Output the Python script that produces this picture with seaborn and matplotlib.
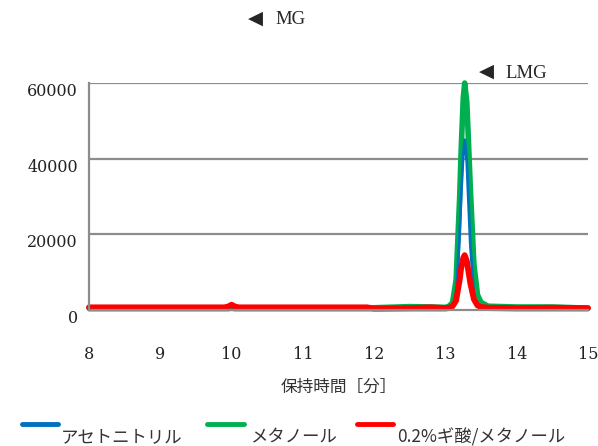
import matplotlib

matplotlib.use("Agg")

import matplotlib.pyplot as plt
import pandas as pd
import seaborn as sns
from matplotlib.lines import Line2D

# retention time grid (min) and detector response per solvent
time_min = [8.0, 9.0, 9.9, 9.95, 10.0, 10.05, 10.1, 11.0, 11.9, 12.0, 12.5, 12.8,
            13.0, 13.05, 13.1, 13.15, 13.2, 13.22, 13.25, 13.27, 13.3, 13.32, 13.35,
            13.4, 13.45, 13.5, 13.6, 14.0, 14.5, 15.0]
acetonitrile = [0, 0, 0, 0, 100, 0, 0, 0, 0, 0, 0, 0,
                0, 100, 600, 4000, 20000, 30000, 41000, 45000, 39000, 30000, 17000,
                4000, 1000, 300, 100, 0, 0, 0]
methanol = [500, 500, 500, 600, 900, 600, 500, 500, 500, 600, 900, 800,
            700, 1000, 2000, 8000, 30000, 42000, 56000, 60000, 55000, 46000, 32000,
            12000, 4000, 2000, 1000, 800, 800, 500]
formic_methanol = [700, 700, 700, 900, 1400, 900, 700, 700, 700, 400, 500, 700,
                   500, 600, 1000, 2500, 8000, 11000, 13800, 14500, 13000, 10500, 7000,
                   2800, 1200, 800, 600, 500, 600, 500]

series_names = ["アセトニトリル", "メタノール", "0.2%ギ酸/メタノール"]
colors = {"アセトニトリル": "#0070C0", "メタノール": "#00B050", "0.2%ギ酸/メタノール": "#FF0000"}
widths = {"アセトニトリル": 2.0, "メタノール": 4.0, "0.2%ギ酸/メタノール": 4.2}
y_ticks = [0, 20000, 40000, 60000]
x_ticks = [8, 9, 10, 11, 12, 13, 14, 15]

GRAY = "#8C8C8C"

sns.set_theme(style="white")
plt.rcParams["font.family"] = ["DejaVu Serif", "Noto Sans CJK JP"]

df = pd.DataFrame({
    "time": time_min * 3,
    "value": acetonitrile + methanol + formic_methanol,
    "solvent": [s for s in series_names for _ in time_min],
})

fig = plt.figure(figsize=(5.98, 4.46), dpi=100)
ax = fig.add_axes([89 / 598, 1 - 310 / 446, 499 / 598, 227 / 446])

# draw order: green under blue, red on top
for name in ["メタノール", "アセトニトリル", "0.2%ギ酸/メタノール"]:
    sns.lineplot(data=df[df["solvent"] == name], x="time", y="value", color=colors[name],
                 linewidth=widths[name], estimator=None, legend=False, ax=ax,
                 solid_capstyle="round", solid_joinstyle="round", clip_on=False)

ax.set_xlim(8, 15)
ax.set_ylim(0, 60000)
ax.set_xticks(x_ticks)
ax.set_yticks(y_ticks)
ax.set_xticklabels([str(t) for t in x_ticks], fontsize=11.5)
ax.set_yticklabels([str(t) for t in y_ticks], fontsize=11.5, va="top")

for y in y_ticks[1:]:
    ax.axhline(y, color=GRAY, linewidth=1.6, zorder=0)

for side in ["top", "right"]:
    ax.spines[side].set_visible(False)
for side in ["left", "bottom"]:
    ax.spines[side].set_color(GRAY)
    ax.spines[side].set_linewidth(1.6)
ax.tick_params(axis="x", direction="out", length=4, width=1.6, color=GRAY, pad=22, labelcolor="#222222")
ax.tick_params(axis="y", direction="out", length=2, width=1.6, color=GRAY, pad=6, labelcolor="#222222")
ax.set_xlabel("保持時間［分］", fontsize=12, labelpad=11, family=["Noto Sans CJK JP"], color="#333333")
ax.set_ylabel("")

# peak markers
fig.text(255 / 598, 1 - 18 / 446, "◀", family=["DejaVu Sans"], fontsize=14, ha="center", va="center")
fig.text(275 / 598, 1 - 20 / 446, "MG", family=["Liberation Serif"], fontsize=13.5, ha="left", va="center")
fig.text(486 / 598, 1 - 71 / 446, "◀", family=["DejaVu Sans"], fontsize=14, ha="center", va="center")
fig.text(505 / 598, 1 - 73 / 446, "LMG", family=["Liberation Serif"], fontsize=13.5, ha="left", va="center")

# legend (handles above, labels offset below-right)
handle_x = [(22, 58), (207, 244), (357, 393)]
label_x = [61, 250, 397]
for name, (x0, x1), lx in zip(series_names, handle_x, label_x):
    fig.add_artist(Line2D([x0 / 598, x1 / 598], [1 - 424 / 446] * 2, color=colors[name],
                          linewidth=3.5, solid_capstyle="round"))
    fig.text(lx / 598, 1 - 437 / 446, name, fontsize=12.5, ha="left", va="center",
             family=["Noto Sans CJK JP", "DejaVu Sans"], color="#333333")

fig.savefig("out.png", dpi=100)
plt.close()
